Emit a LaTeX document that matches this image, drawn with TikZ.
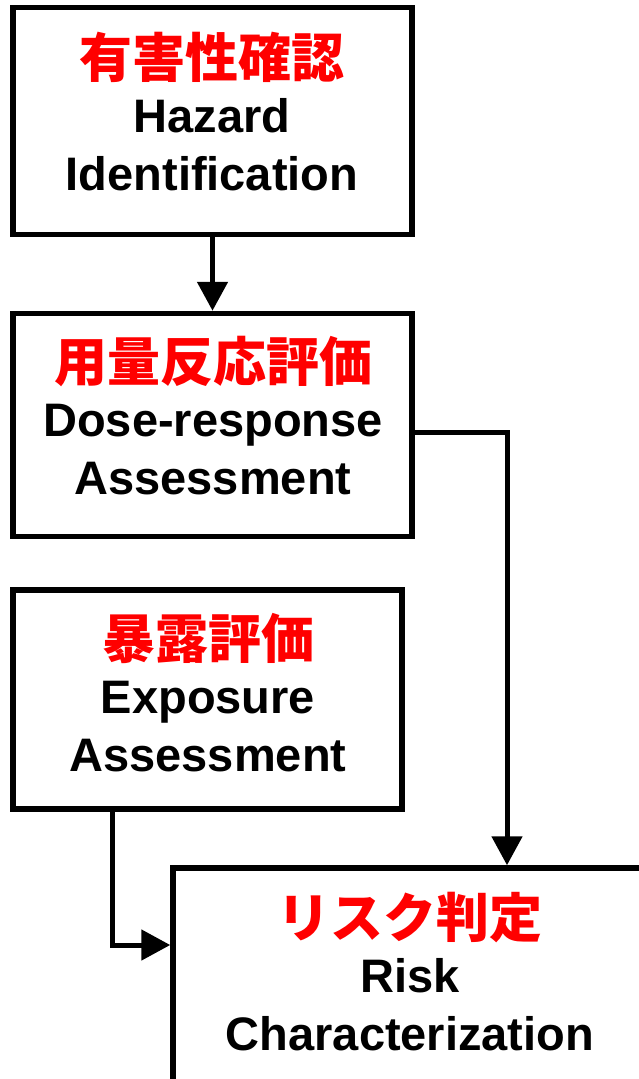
\documentclass[tikz,border=0pt]{standalone}
\usepackage{fontspec}
\setmainfont{Liberation Sans}
\newfontfamily\jpfont{Noto Sans CJK JP}
\usetikzlibrary{arrows.meta}

\newcommand\jptitle[1]{{\color{red}\jpfont\fontsize{53}{53}\selectfont #1}}

\begin{document}
\begin{tikzpicture}[
    x=1pt,y=-1pt,
    box/.style={draw,line width=5.5pt,inner sep=0pt},
    boxtext/.style={align=center,inner sep=0pt,font=\bfseries\fontsize{47}{58}\selectfont},
    arrow/.style={draw,line width=5pt,-{Triangle[width=30pt,length=29pt]}}
  ]
  \useasboundingbox (0,0) rectangle (639,1079);
  \node[box,minimum width=399pt,minimum height=227pt] (hazard) at (212.5,121) {};
  \node[box,minimum width=399pt,minimum height=223pt] (dose) at (212.5,425) {};
  \node[box,minimum width=389pt,minimum height=219pt] (exposure) at (207.5,699.5) {};
  \node[box,minimum width=480pt,minimum height=220pt] (risk) at (413,978) {};

  \node[boxtext] (hazardtext) at (212,111.5) {\jptitle{有害性確認}\\[-3pt] Hazard\\ Identification};
  \node[boxtext] (dosetext) at (213,416) {\jptitle{用量反応評価}\\[-3pt] Dose-response\\ Assessment};
  \node[boxtext] (exposuretext) at (208,693) {\jptitle{暴露評価}\\[-3pt] Exposure\\ Assessment};
  \node[boxtext] (risktext) at (410,971.5) {\jptitle{リスク判定}\\[-3pt] Risk\\ Characterization};

  \draw[arrow] (hazard.south) -- (dose.north);
  \draw[arrow] ([yshift=-7pt]dose.east) -| ([xshift=94pt]risk.north);
  \draw[arrow] ([xshift=-95.5pt]exposure.south) |- ([yshift=33pt]risk.west);
\end{tikzpicture}
\end{document}
